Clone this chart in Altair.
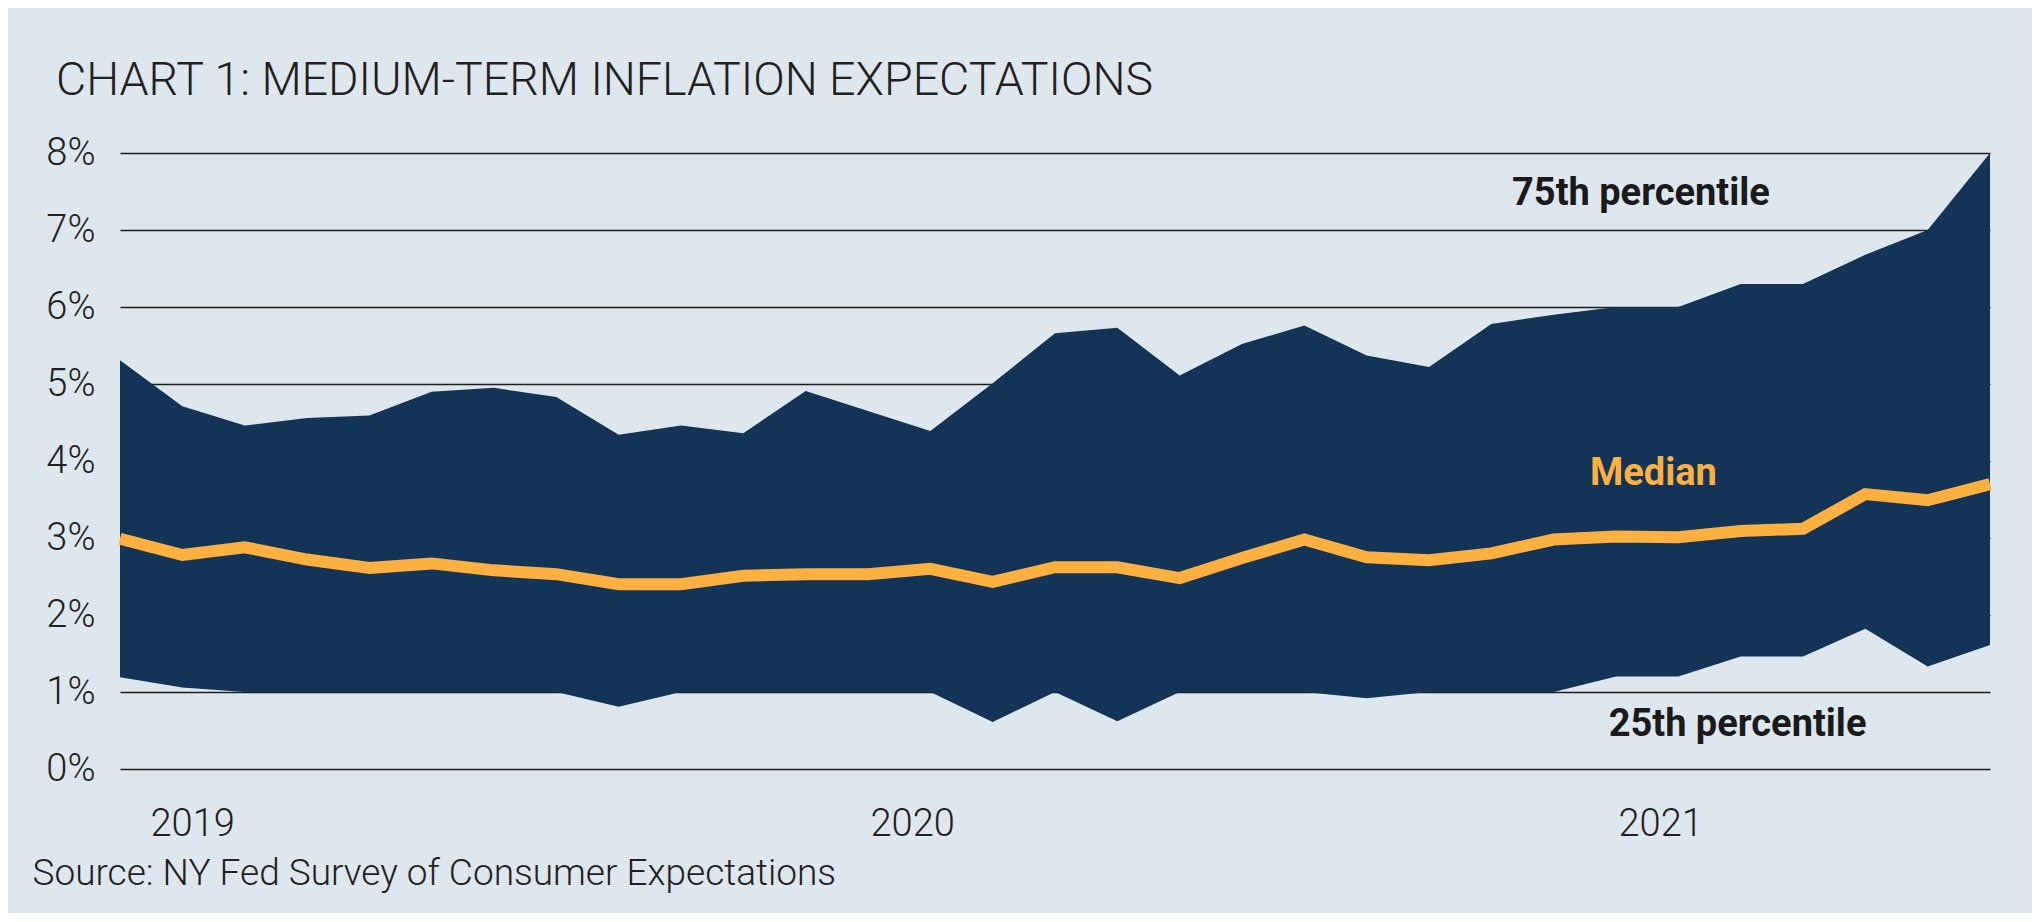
import altair as alt
import pandas as pd

# Monthly observations, Jan 2019 .. Jul 2021 (index 0..30)
month_index = list(range(31))
p75 = [5.31, 4.71, 4.46, 4.56, 4.59, 4.90, 4.95, 4.83, 4.34, 4.46,
       4.36, 4.91, 4.65, 4.39, 5.01, 5.66, 5.73, 5.11, 5.52, 5.76,
       5.37, 5.22, 5.78, 5.90, 6.0, 6.0, 6.3, 6.3, 6.68, 7.0, 8.0]
p25 = [1.19, 1.06, 1.0, 1.0, 1.0, 1.0, 1.0, 1.0, 0.81, 1.0,
       1.0, 1.0, 1.0, 1.0, 0.61, 1.0, 0.62, 1.0, 1.0, 1.0,
       0.92, 1.0, 1.0, 1.0, 1.2, 1.2, 1.46, 1.46, 1.82, 1.33, 1.61]
median = [2.99, 2.78, 2.88, 2.72, 2.61, 2.67, 2.58, 2.53, 2.40, 2.40,
          2.51, 2.53, 2.53, 2.60, 2.43, 2.62, 2.62, 2.48, 2.74, 2.98,
          2.75, 2.71, 2.80, 2.98, 3.02, 3.01, 3.09, 3.12, 3.57, 3.49, 3.70]

year_ticks = [0, 12, 24]
y_ticks = [0, 1, 2, 3, 4, 5, 6, 7, 8]

label_text = ["75th percentile", "Median", "25th percentile"]
label_x = [24.4, 24.6, 25.95]
label_y = [7.47, 3.83, 0.57]
label_color = ["#1a1a1a", "#fbb040", "#1a1a1a"]

NAVY = "#133457"
ORANGE = "#fbb040"
BG = "#dee6ee"
INK = "#231f20"
FONT = "Roboto"

df = pd.DataFrame({"m": month_index, "p75": p75, "p25": p25, "median": median})
labels = pd.DataFrame({"text": label_text, "x": label_x, "y": label_y, "c": label_color})

x_scale = alt.Scale(domain=[0, 30], nice=False, zero=False)
y_scale = alt.Scale(domain=[0, 8], nice=False)

x_axis = alt.Axis(
    values=year_ticks,
    labelExpr="'' + (2019 + datum.value / 12)",
    labelAlign="left",
    labelOffset=alt.condition("datum.value == 0", alt.value(30), alt.value(2)),
    labelPadding=36,
    labelFontSize=38,
    labelFont=FONT,
    labelFontWeight=300,
    labelColor=INK,
    grid=False, ticks=False, domain=False,
    title="Source: NY Fed Survey of Consumer Expectations",
    titleFont=FONT, titleFontSize=37, titleFontWeight=300, titleColor=INK,
    titleAnchor="start", titleAlign="left", titleBaseline="top",
    titleX=-88, titleY=86,
)
y_axis = alt.Axis(
    values=y_ticks,
    labelExpr="datum.value + '%'",
    labelPadding=25,
    labelFontSize=38,
    labelFont=FONT,
    labelFontWeight=300,
    labelColor=INK,
    grid=True, gridColor="#1e1e1e", gridWidth=1.6,
    ticks=False, domain=False, title=None,
)

band = alt.Chart(df).mark_area(color=NAVY, opacity=1, interpolate="linear").encode(
    x=alt.X("m:Q", scale=x_scale, axis=x_axis),
    y=alt.Y("p75:Q", scale=y_scale, axis=y_axis),
    y2="p25:Q",
)

line = alt.Chart(df).mark_line(color=ORANGE, strokeWidth=12, strokeJoin="miter", strokeCap="butt").encode(
    x=alt.X("m:Q", scale=x_scale),
    y=alt.Y("median:Q", scale=y_scale),
)

text = alt.Chart(labels).mark_text(font=FONT, fontSize=38, fontWeight="bold", align="center", baseline="middle").encode(
    x=alt.X("x:Q", scale=x_scale),
    y=alt.Y("y:Q", scale=y_scale),
    text="text:N",
    color=alt.Color("c:N", scale=None),
)

chart = (band + line + text).properties(
    width=1870,
    height=616,
    background=BG,
    padding={"left": 112, "top": 145, "right": 42, "bottom": 144},
    autosize=alt.AutoSizeParams(type="none"),
    title=alt.TitleParams(
        "CHART 1: MEDIUM-TERM INFLATION EXPECTATIONS",
        anchor="start", frame="group", dx=-64, offset=30,
        font=FONT, fontSize=46.5, fontWeight=300, color=INK,
    ),
).configure_view(stroke=None)

chart.save("out.html", embed_options={"renderer": "svg", "actions": False})
